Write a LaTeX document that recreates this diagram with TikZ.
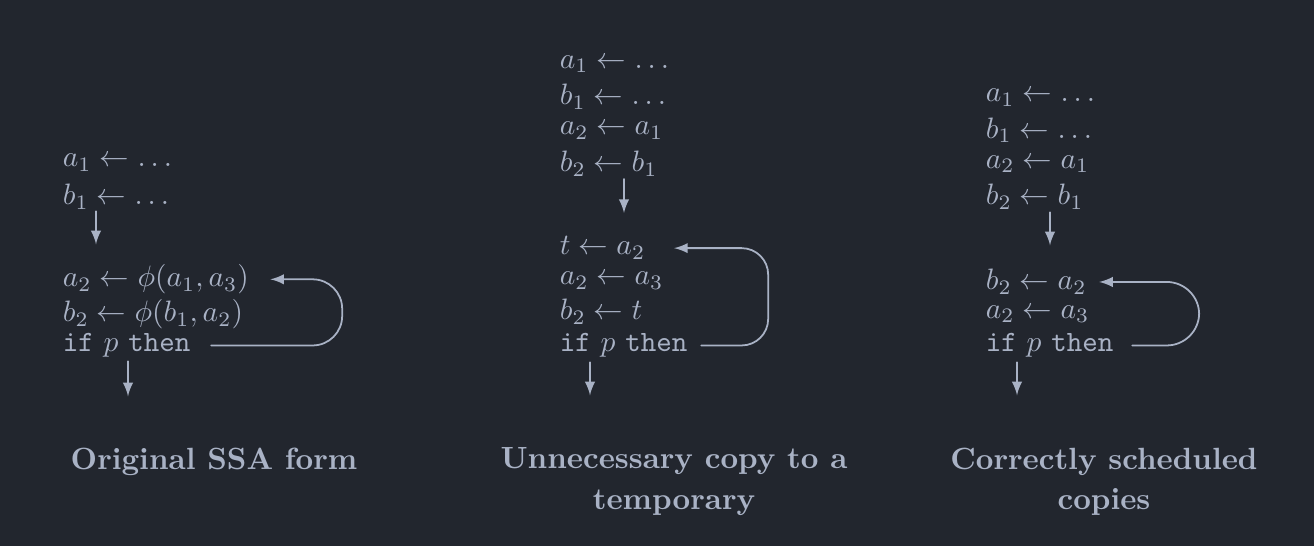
\documentclass[tikz,border=0pt]{standalone}
\usepackage{amssymb,amsmath}
\usetikzlibrary{arrows}
\definecolor{pagebg}{HTML}{22262E}
\definecolor{inkfg}{HTML}{A9B2C5}

\begin{document}
\begin{tikzpicture}[line cap=round,line join=round,>=latex,x=0.339pt,y=-0.339pt,
    color=inkfg,line width=0.6pt,
    stmt/.style={anchor=base west,inner sep=0pt},
    caption/.style={anchor=north,align=center,inner sep=0pt,
      font=\fontsize{10.4pt}{13.6pt}\selectfont\bfseries}]
  \fill[pagebg] (0,0) rectangle (1314,546);
  % original SSA form
  \foreach \y/\n/\t in {166.7/oa1/{$a_1 \leftarrow \ldots$},205/ob1/{$b_1 \leftarrow \ldots$},
      286.7/oa2/{$a_2 \leftarrow \phi(a_1, a_3)$},321.7/ob2/{$b_2 \leftarrow \phi(b_1, a_2)$},
      351.7/oif/{\texttt{if} $p$ \texttt{then}}}
    \node[stmt] (\n) at (62,\y) {\t};
  \draw[->] (ob1.south west) ++(34,1) -- ++(0,33);
  \draw[->] (oif.south west) ++(66,3) -- ++(0,35);
  \draw[->,rounded corners=10pt] (oif.east) ++(20,0) -- ++(131,0) |- ([xshift=7pt]oa2.east);
  % copy through a temporary
  \foreach \y/\n/\t in {68.3/ua1/{$a_1 \leftarrow \ldots$},105/ub1/{$b_1 \leftarrow \ldots$},
      135/ua2/{$a_2 \leftarrow a_1$},171.7/ub2/{$b_2 \leftarrow b_1$},
      255/ut/{$t \leftarrow a_2$},285/ua3/{$a_2 \leftarrow a_3$},
      320/ubt/{$b_2 \leftarrow t$},351.7/uif/{\texttt{if} $p$ \texttt{then}}}
    \node[stmt] (\n) at (559,\y) {\t};
  \draw[->] (ub2.south west) ++(65,2) -- ++(0,34);
  \draw[->] (uif.south west) ++(31,4) -- ++(0,33);
  \draw[->,rounded corners=9pt] (uif.east) ++(13,0) -- ++(67,0) |- ([xshift=9.5pt]ut.east);
  % scheduled copies
  \foreach \y/\n/\t in {101.7/ca1/{$a_1 \leftarrow \ldots$},138.3/cb1/{$b_1 \leftarrow \ldots$},
      168.3/ca2/{$a_2 \leftarrow a_1$},205/cb2/{$b_2 \leftarrow b_1$},
      290/cba/{$b_2 \leftarrow a_2$},318.3/caa/{$a_2 \leftarrow a_3$},
      351.7/cif/{\texttt{if} $p$ \texttt{then}}}
    \node[stmt] (\n) at (985,\y) {\t};
  \draw[->] (cb2.south west) ++(65,2) -- ++(0,33);
  \draw[->] (cif.south west) ++(32,4) -- ++(0,33);
  \draw[->,rounded corners=11pt] (cif.east) ++(18,0) -- ++(67,0) |- ([xshift=4pt]cba.east);
  % captions
  \node[caption] (capo) at (214,447) {Original SSA form};
  \node[caption] (capu) at (674,447) {Unnecessary copy to a\\ temporary};
  \node[caption] (capc) at (1104,447) {Correctly scheduled\\ copies};
\end{tikzpicture}
\end{document}
